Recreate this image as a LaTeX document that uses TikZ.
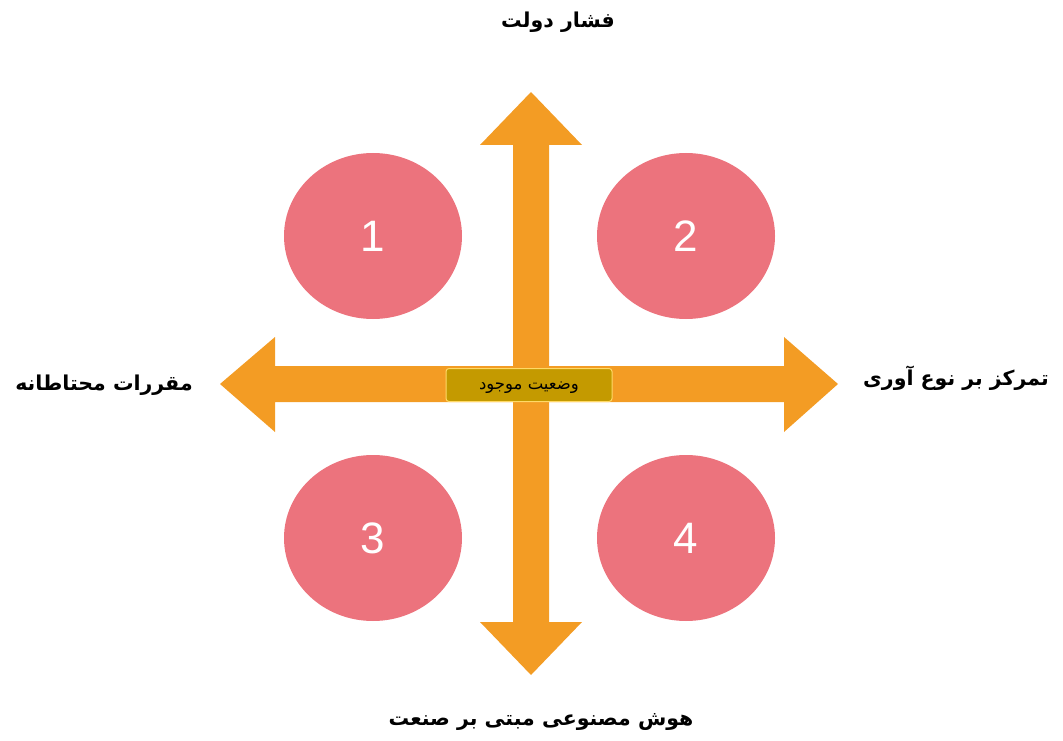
\documentclass[tikz,border=0pt]{standalone}
\usepackage{fontspec}
\usetikzlibrary{shapes.geometric}
\setmainfont{Liberation Sans}
\newfontfamily\arabicfont[Script=Arabic]{DejaVu Sans}
\TeXXeTstate=1
\definecolor{arroworange}{RGB}{243,156,36}
\definecolor{circpink}{RGB}{236,115,125}
\definecolor{boxgold}{RGB}{196,154,0}
\definecolor{boxedge}{RGB}{255,217,102}
\begin{document}
\begin{tikzpicture}[x=1pt,y=-1pt,
  quad/.style={ellipse, fill=circpink, minimum width=178pt, minimum height=166pt, inner sep=0pt, text=white, font=\fontsize{44}{44}\selectfont},
  axislabel/.style={font=\arabicfont\bfseries\fontsize{20.5}{24}\selectfont, text=black, inner sep=0pt},
  bigarrow/.style={fill=arroworange, draw=none}]
\useasboundingbox (0,0) rectangle (1063,741);
% vertical double arrow
\fill[bigarrow] (531,92) -- (582,145) -- (549,145) -- (549,622) -- (582,622) -- (531,675)
  -- (480,622) -- (513,622) -- (513,145) -- (480,145) -- cycle;
% horizontal double arrow
\fill[bigarrow] (220,384) -- (275,337) -- (275,366) -- (784,366) -- (784,337) -- (838,384)
  -- (784,432) -- (784,402) -- (275,402) -- (275,432) -- cycle;
% circles
\node[quad] (q1) at (373,236) {1};
\node[quad] (q2) at (686,236) {2};
\node[quad] (q3) at (373,538) {3};
\node[quad] (q4) at (686,538) {4};
% centre box
\node[fill=boxgold, draw=boxedge, line width=1pt, rounded corners=3pt, minimum width=166pt, minimum height=33pt, inner sep=0pt,
  text height=9pt, text depth=0pt,
  font=\arabicfont\fontsize{16.5}{19}\selectfont] (center) at (529,385) {\beginR وضعیت موجود\endR};
% axis labels
\node[axislabel] (top) at (558,22) {\beginR فشار دولت\endR};
\node[axislabel] (left) at (104,385) {\beginR مقررات محتاطانه\endR};
\node[axislabel] (right) at (956,378) {\beginR تمرکز بر نوع آوری\endR};
\node[axislabel] (bottom) at (541,722) {\beginR هوش مصنوعی مبتی بر صنعت\endR};
\end{tikzpicture}
\end{document}
